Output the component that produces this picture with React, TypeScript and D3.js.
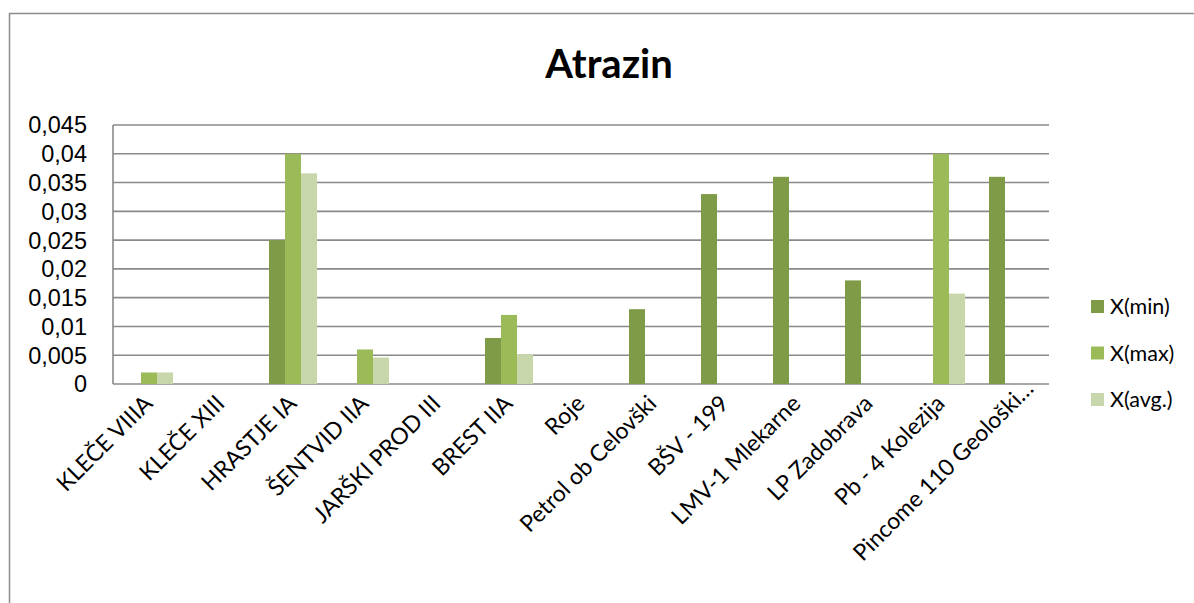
import React from "react";
import * as d3 from "d3";

const title = "Atrazin";
const categories = [
  "KLEČE VIIIA",
  "KLEČE XIII",
  "HRASTJE IA",
  "ŠENTVID IIA",
  "JARŠKI PROD III",
  "BREST IIA",
  "Roje",
  "Petrol ob Celovški",
  "BŠV - 199",
  "LMV-1 Mlekarne",
  "LP Zadobrava",
  "Pb - 4 Kolezija",
  "Pincome 110 Geološki…",
];
const seriesNames = ["X(min)", "X(max)", "X(avg.)"];
const xMin = [null, null, 0.025, null, null, 0.008, null, 0.013, 0.033, 0.036, 0.018, null, 0.036];
const xMax = [0.002, null, 0.04, 0.006, null, 0.012, null, null, null, null, null, 0.04, null];
const xAvg = [0.002, null, 0.0366, 0.0046, null, 0.0052, null, null, null, null, null, 0.0157, null];
const yTicks = [0, 0.005, 0.01, 0.015, 0.02, 0.025, 0.03, 0.035, 0.04, 0.045];
const colors = ["#809B48", "#9BBB59", "#C7D6AB"];

const W = 1194;
const H = 603;
const plot = { left: 113, right: 1049, top: 125, bottom: 384 };

const locale = d3.formatLocale({ decimal: ",", thousands: ".", grouping: [3], currency: ["", "€"] });
const fmt = locale.format(".3~f");

export default function App() {
  const series = [xMin, xMax, xAvg];
  const x = d3
    .scaleBand<string>()
    .domain(categories)
    .range([plot.left, plot.right])
    .paddingInner(1 / 3)
    .paddingOuter(1 / 6);
  const xs = d3.scaleBand<number>().domain([0, 1, 2]).range([0, x.bandwidth()]);
  const y = d3.scaleLinear().domain([0, 0.045]).range([plot.bottom, plot.top]);

  return (
    <svg
      width={W}
      height={H}
      style={{ position: "absolute", left: 0, top: 0, background: "#fff" }}
    >
      <rect x={9.5} y={13.5} width={1300} height={700} fill="#fff" stroke="#8c8c8c" strokeWidth={1.5} />
      <text
        x={609}
        y={78}
        textAnchor="middle"
        fontFamily="Lato"
        fontWeight="bold"
        fontSize={40}
        fill="#000"
      >
        {title}
      </text>
      {yTicks.map((t) => (
        <g key={t}>
          <line
            x1={plot.left}
            x2={plot.right}
            y1={y(t)}
            y2={y(t)}
            stroke="#8a8a8a"
            strokeWidth={1.6}
          />
          <text
            x={87}
            y={y(t)}
            dy="0.36em"
            textAnchor="end"
            fontFamily="Liberation Sans"
            fontSize={23.5}
            fill="#000"
          >
            {fmt(t)}
          </text>
        </g>
      ))}
      <line x1={plot.left} x2={plot.left} y1={plot.top} y2={plot.bottom} stroke="#8a8a8a" strokeWidth={1.6} />
      {series.map((vals, si) =>
        vals.map((v, ci) =>
          v == null ? null : (
            <rect
              key={`${si}-${ci}`}
              x={(x(categories[ci]) as number) + (xs(si) as number)}
              y={y(v)}
              width={xs.bandwidth()}
              height={plot.bottom - y(v)}
              fill={colors[si]}
            />
          )
        )
      )}
      {categories.map((c, i) => {
        const cx = (x(c) as number) + x.bandwidth() / 2;
        const last = i === categories.length - 1;
        const ax = cx + (last ? 22 : 5);
        const ay = last ? 390 : 405;
        return (
          <text
            key={c}
            transform={`translate(${ax},${ay}) rotate(-45)`}
            textAnchor="end"
            fontFamily="Lato"
            fontSize={23}
            fill="#000"
          >
            {c}
          </text>
        );
      })}
      {seriesNames.map((n, i) => (
        <g key={n} transform={`translate(1091,${300 + i * 46.5})`}>
          <rect x={0} y={0} width={13} height={13} fill={colors[i]} />
          <text x={19} y={6.5} dy="0.36em" fontFamily="Lato" fontSize={21.5} fill="#000">
            {n}
          </text>
        </g>
      ))}
    </svg>
  );
}
